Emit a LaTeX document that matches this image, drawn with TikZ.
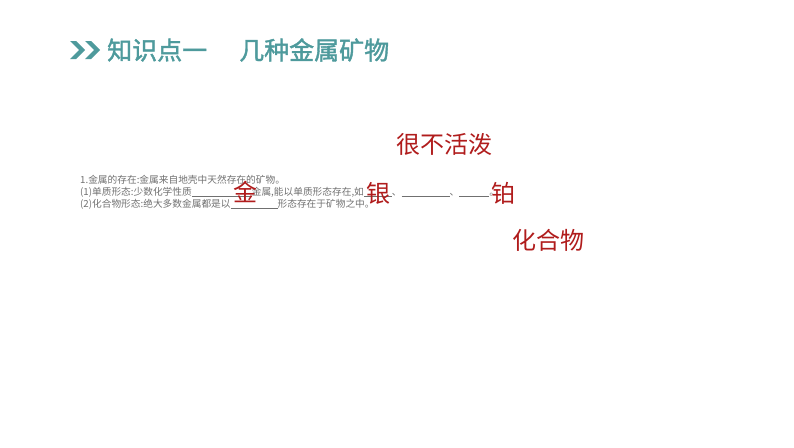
\documentclass[tikz,border=0pt]{standalone}
\usepackage{fontspec}
\setmainfont{Noto Sans CJK SC}
\newfontfamily\cjkb[FakeBold=1.5]{Noto Sans CJK SC}
\definecolor{teal1}{HTML}{4E9A9C}
\definecolor{red1}{HTML}{B01C1C}
\definecolor{gray1}{HTML}{707070}
\newcommand{\blank}[1]{\rule[-1.5pt]{#1}{0.5pt}}
\begin{document}
\begin{tikzpicture}[x=1pt,y=-1pt,
  small/.style={anchor=west,inner sep=0,text=gray1,font=\fontsize{9.7}{10}\selectfont},
  redw/.style={text=red1,inner sep=0,font=\fontsize{24}{26}\selectfont},
  chev/.style={fill=teal1}]
\useasboundingbox (0,0) rectangle (794,447);
\fill[chev] (70,41) -- (76,41) -- (85,50) -- (76,59) -- (70,59) -- (79,50) -- cycle;
\fill[chev] (85,41) -- (91,41) -- (100,50) -- (91,59) -- (85,59) -- (94,50) -- cycle;
\node[anchor=west,inner sep=0,text=teal1,font=\cjkb\fontsize{25}{27}\selectfont] (title) at (107,50) {知识点一\hspace{32pt}几种金属矿物};
\node[small] (l1) at (80,180) {1.金属的存在:金属来自地壳中天然存在的矿物。};
\node[small] (l2) at (80,192) {(1)单质形态:少数化学性质\blank{60pt}金属,能以单质形态存在,如\blank{28pt}、\blank{48pt}、\blank{30pt}。};
\node[small] (l3) at (80,204) {(2)化合物形态:绝大多数金属都是以\blank{47pt}形态存在于矿物之中。};
\node[redw] (w1) at (444,144) {很不活泼};
\node[redw] (w2) at (245,192) {金};
\node[redw] (w3) at (378,193) {银};
\node[redw] (w4) at (503,193) {铂};
\node[redw] (w5) at (548,240) {化合物};
\end{tikzpicture}
\end{document}
